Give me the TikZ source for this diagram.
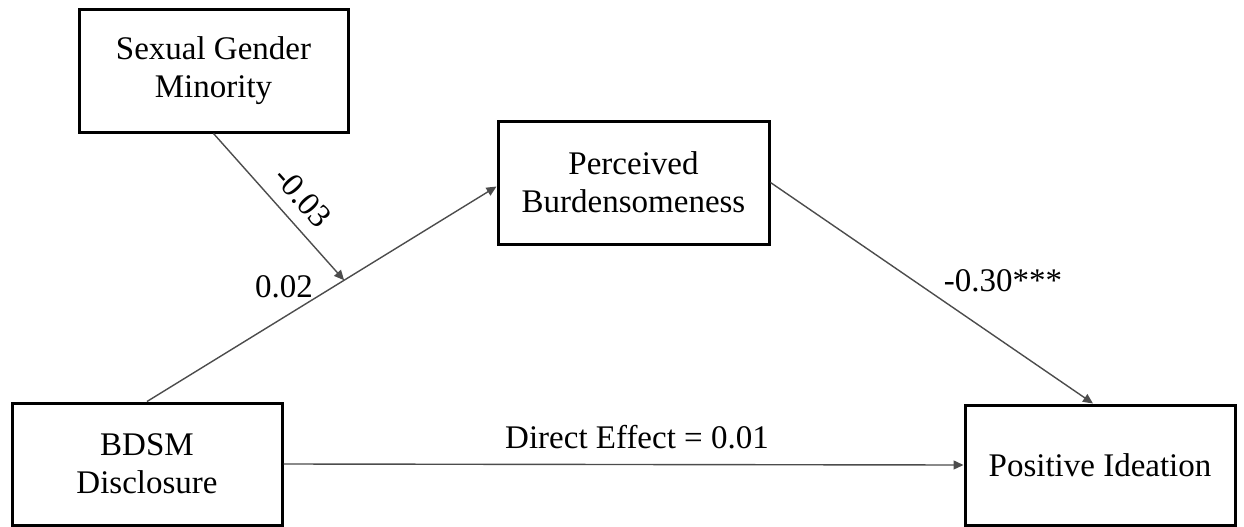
\documentclass[tikz,border=0pt]{standalone}
\usepackage{fontspec}
\setmainfont{Liberation Serif}
\usetikzlibrary{arrows.meta,calc}
\tikzset{
  varbox/.style={draw=black, line width=3pt, fill=white, align=center, inner sep=0pt,
    font=\fontsize{33}{38}\selectfont},
  conn/.style={draw=black!70, line width=1.4pt, -{Triangle[length=10pt,width=9pt]}},
  coef/.style={font=\fontsize{33}{38}\selectfont, inner sep=0pt}
}
\begin{document}
\begin{tikzpicture}[x=1pt,y=-1pt]
\useasboundingbox (0,0) rectangle (1244,527);
\node[varbox, minimum width=269pt, minimum height=122pt] (sgm) at (213.5,71) {Sexual Gender\\Minority};
\node[varbox, minimum width=271pt, minimum height=123pt] (pb) at (633.5,182.5) {Perceived\\Burdensomeness};
\node[varbox, minimum width=270pt, minimum height=122pt] (bd) at (147,464) {BDSM\\Disclosure};
\node[varbox, minimum width=270pt, minimum height=120pt] (pi) at (1100,465) {Positive Ideation};
\coordinate (pbin) at ([yshift=-4pt]pb.west);
\draw[conn] (bd.north) -- (pbin);
\coordinate (mod) at ($(bd.north)!0.564!(pbin)$);
\draw[conn] (sgm.south) -- (mod);
\draw[conn] (pb.east) -- ([xshift=-7pt]pi.north);
\draw[conn] (bd.east) -- (pi.west);
\node[coef, rotate=-48] (l03) at (303,197) {-0.03};
\node[coef] (l02) at (284,287) {0.02};
\node[coef] (l30) at (1003,281) {-0.30***};
\node[coef] (lde) at (637,437) {Direct Effect = 0.01};
\end{tikzpicture}
\end{document}
